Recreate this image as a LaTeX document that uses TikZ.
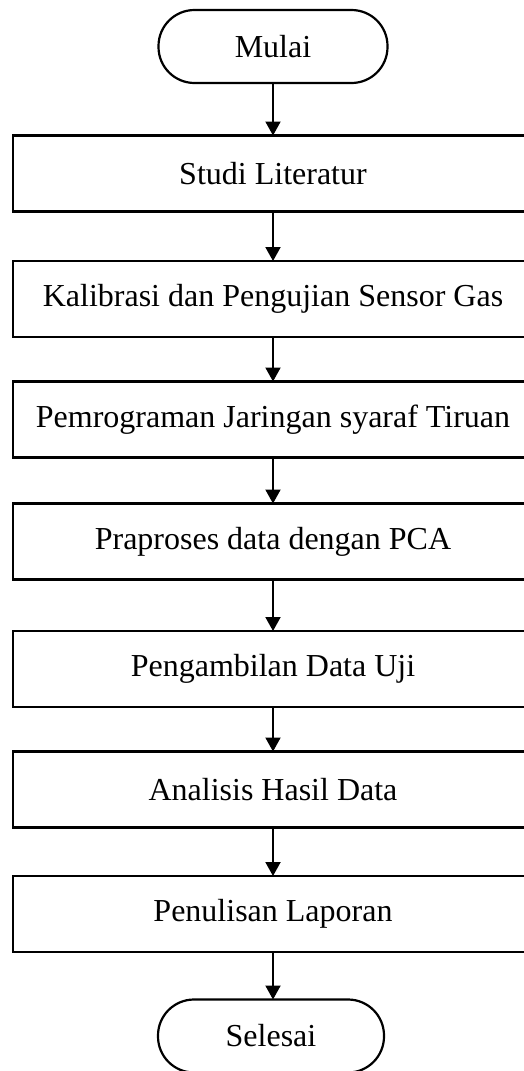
\documentclass[tikz,border=0pt]{standalone}
\usepackage{fontspec}
\setmainfont{Liberation Serif}
\usetikzlibrary{arrows.meta}
\begin{document}
\begin{tikzpicture}[x=1pt,y=-1pt,
  every node/.style={font=\fontsize{32}{38}\selectfont, inner sep=0pt, outer sep=0pt},
  process/.style={draw, line width=2.6pt, minimum width=520pt, minimum height=76pt},
  terminal/.style={draw, line width=2.2pt, rounded corners=36pt, minimum height=73pt},
  flow/.style={line width=2pt, -{Triangle[width=15pt,length=14pt]}}]
  \useasboundingbox (0,0) rectangle (523,1071);
  \node[terminal, minimum width=229pt] (start) at (273,46.5) {Mulai};
  \node[process] (b1) at (273,173.5) {Studi Literatur};
  \node[process] (b2) at (273,299) {Kalibrasi dan Pengujian Sensor Gas};
  \node[process] (b3) at (273,419.5) {Pemrograman Jaringan syaraf Tiruan};
  \node[process] (b4) at (273,541.5) {Praproses data dengan PCA};
  \node[process] (b5) at (273,669) {Pengambilan Data Uji};
  \node[process] (b6) at (273,789.5) {Analisis Hasil Data};
  \node[process] (b7) at (273,914) {Penulisan Laporan};
  \node[terminal, minimum width=226pt] (stop) at (271,1036) {Selesai};
  \draw[flow] (start.south) -- (b1.north);
  \draw[flow] (b1.south) -- (b2.north);
  \draw[flow] (b2.south) -- (b3.north);
  \draw[flow] (b3.south) -- (b4.north);
  \draw[flow] (b4.south) -- (b5.north);
  \draw[flow] (b5.south) -- (b6.north);
  \draw[flow] (b6.south) -- (b7.north);
  \draw[flow] (b7.south) -- (b7.south |- stop.north);
\end{tikzpicture}
\end{document}
